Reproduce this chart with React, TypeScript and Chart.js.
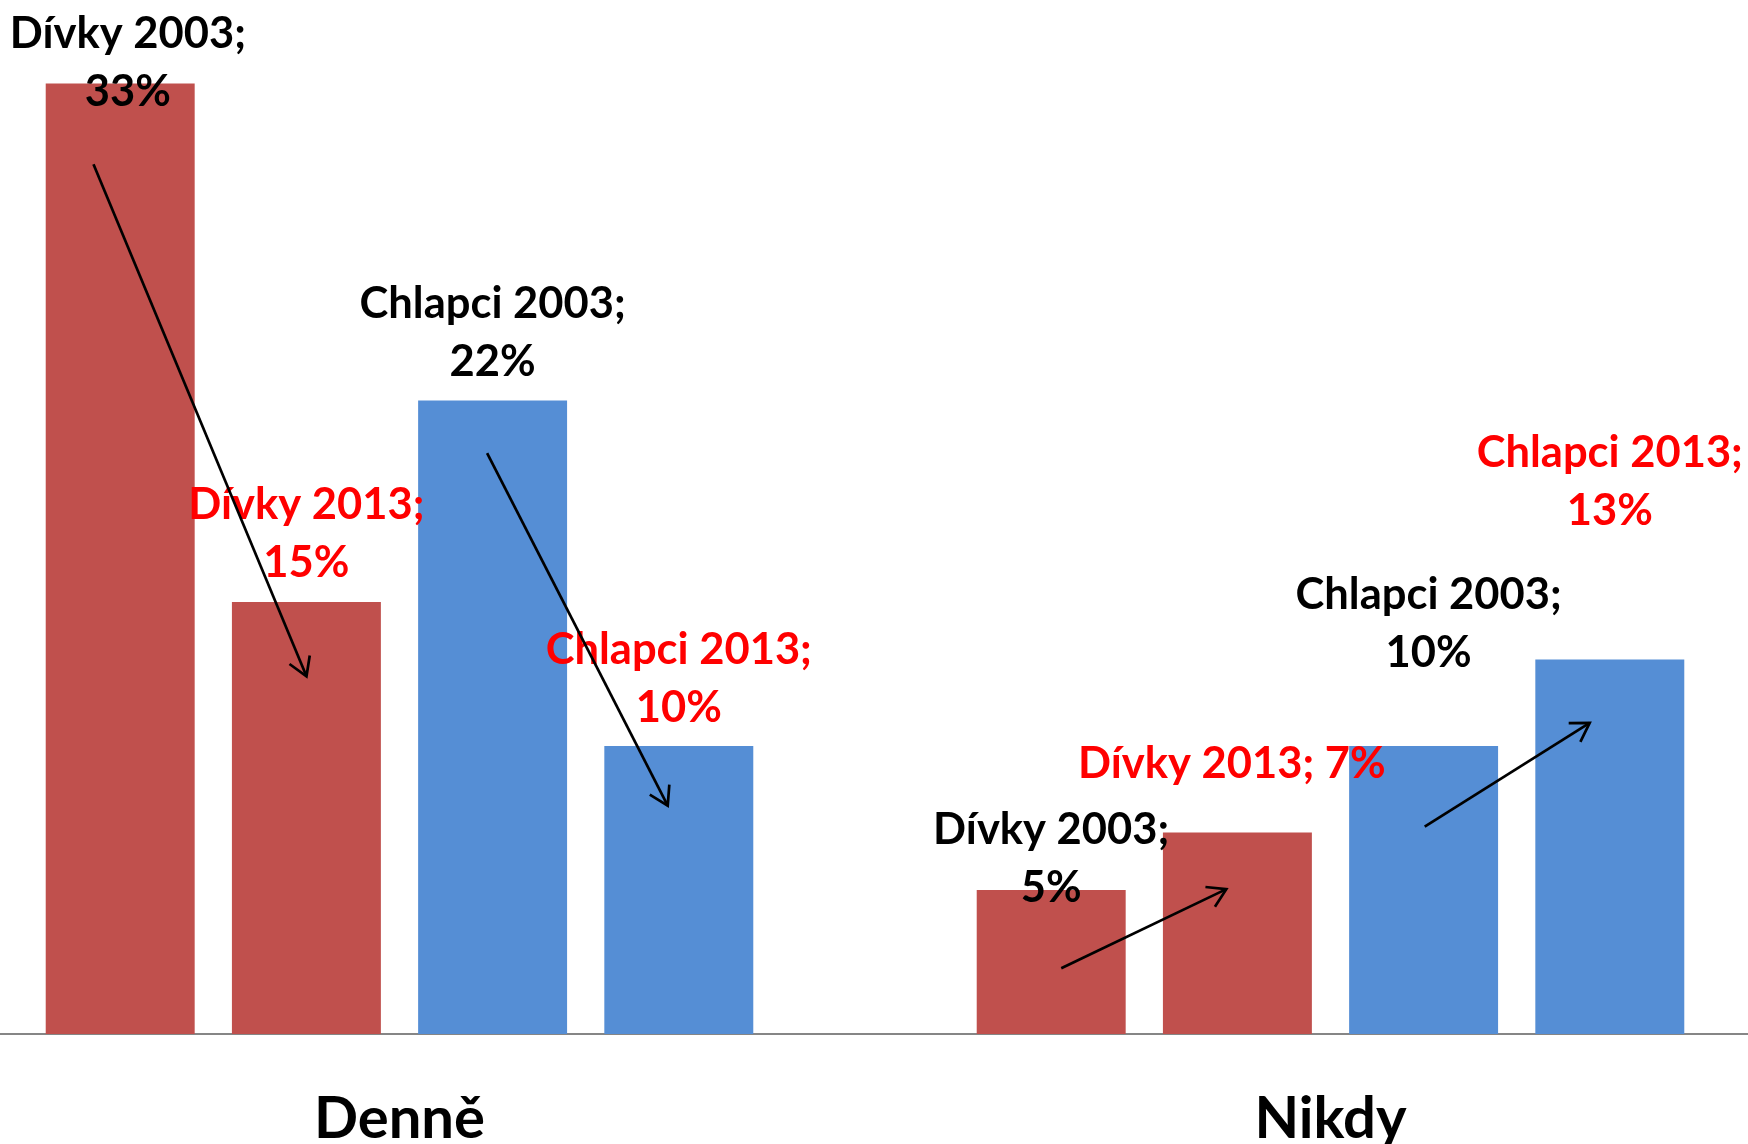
import React, { useEffect, useRef } from "react";
import { Chart, registerables } from "chart.js";

Chart.register(...registerables);

// ---- data ----
const categories = ["Denně", "Nikdy"];
const seriesNames = ["Dívky 2003", "Dívky 2013", "Chlapci 2003", "Chlapci 2013"];
const divky2003 = [33, 5];
const divky2013 = [15, 7];
const chlapci2003 = [22, 10];
const chlapci2013 = [10, 13];
const seriesValues = [divky2003, divky2013, chlapci2003, chlapci2013];

// ---- styles ----
const barColors = ["#C0504D", "#C0504D", "#558ED5", "#558ED5"];
const labelColors = ["#000000", "#FF0000", "#000000", "#FF0000"];
// label offset from bar top centre [dataset][category] -> [dx, dy] (dy = centre of last line)
const labelOffsets = [
  [[7.6, 8], [0, -2]],
  [[0, -39], [-5.5, -68.5]],
  [[0, -38.5], [5, -93.5]],
  [[0, -38.5], [0, -149]],
];
const labelSingleLine = [
  [false, false],
  [false, true],
  [false, false],
  [false, false],
];

// trend arrows in data space (x = fractional category index, y = value %)
const arrowFromX = [-0.3287, 0.0941, 0.7108, 1.1012];
const arrowFromY = [30.2, 20.17, 2.28, 7.2];
const arrowToX = [-0.0999, 0.2881, 0.8881, 1.2784];
const arrowToY = [12.42, 7.93, 5.03, 10.8];

const LABEL_FONT = "bold 43.5px Lato";
const LINE_GAP = 58;

const annotationPlugin = {
  id: "annotations",
  afterDatasetsDraw(chart: any) {
    const ctx = chart.ctx as CanvasRenderingContext2D;
    const xs = chart.scales.x;
    const ys = chart.scales.y;
    ctx.save();
    // labels
    ctx.font = LABEL_FONT;
    ctx.textAlign = "center";
    ctx.textBaseline = "middle";
    seriesValues.forEach((vals, di) => {
      const meta = chart.getDatasetMeta(di);
      vals.forEach((v, ci) => {
        const el = meta.data[ci];
        const [dx, dy] = labelOffsets[di][ci];
        const cx = el.x + dx;
        const cy = el.y + dy;
        ctx.fillStyle = labelColors[di];
        if (labelSingleLine[di][ci]) {
          ctx.fillText(`${seriesNames[di]}; ${v}%`, cx, cy);
        } else {
          ctx.fillText(`${seriesNames[di]};`, cx, cy - LINE_GAP);
          ctx.fillText(`${v}%`, cx, cy);
        }
      });
    });
    // arrows
    ctx.strokeStyle = "#000000";
    ctx.lineWidth = 2.7;
    ctx.lineCap = "butt";
    ctx.lineJoin = "miter";
    for (let i = 0; i < arrowFromX.length; i++) {
      const x1 = xs.getPixelForValue(arrowFromX[i]);
      const y1 = ys.getPixelForValue(arrowFromY[i]);
      const x2 = xs.getPixelForValue(arrowToX[i]);
      const y2 = ys.getPixelForValue(arrowToY[i]);
      ctx.beginPath();
      ctx.moveTo(x1, y1);
      ctx.lineTo(x2, y2);
      ctx.stroke();
      const ang = Math.atan2(y2 - y1, x2 - x1);
      const len = 21;
      const spread = 0.55;
      ctx.beginPath();
      ctx.moveTo(x2 - len * Math.cos(ang - spread), y2 - len * Math.sin(ang - spread));
      ctx.lineTo(x2, y2);
      ctx.lineTo(x2 - len * Math.cos(ang + spread), y2 - len * Math.sin(ang + spread));
      ctx.stroke();
    }
    ctx.restore();
  },
};

export default function App() {
  const canvasRef = useRef<HTMLCanvasElement | null>(null);

  useEffect(() => {
    if (!canvasRef.current) return;
    const chart = new Chart(canvasRef.current, {
      type: "bar",
      data: {
        labels: categories,
        datasets: seriesValues.map((vals, i) => ({
          label: seriesNames[i],
          data: vals,
          backgroundColor: barColors[i],
          borderWidth: 0,
          categoryPercentage: 0.8,
          barPercentage: 0.8,
        })),
      },
      options: {
        animation: false,
        responsive: true,
        maintainAspectRatio: false,
        layout: { padding: { top: 26, left: 0, right: 0, bottom: 0 } },
        plugins: {
          legend: { display: false },
          tooltip: { enabled: false },
        },
        scales: {
          x: {
            grid: { display: false, drawTicks: false },
            border: { display: true, color: "#868686", width: 2 },
            ticks: {
              color: "#000000",
              font: { family: "Lato", size: 58, weight: "bold" },
              padding: 50,
            },
            afterFit: (scale: any) => {
              scale.height = 110;
            },
          },
          y: {
            display: false,
            min: 0,
            max: 35,
          },
        },
      },
      plugins: [annotationPlugin],
    });
    return () => chart.destroy();
  }, []);

  return (
    <div
      style={{
        position: "fixed",
        left: 0,
        top: 0,
        width: 1748,
        height: 1144,
        overflow: "hidden",
        background: "#ffffff",
      }}
    >
      <div style={{ position: "absolute", left: -66, top: 0, width: 1862, height: 1144 }}>
        <canvas ref={canvasRef} />
      </div>
    </div>
  );
}
